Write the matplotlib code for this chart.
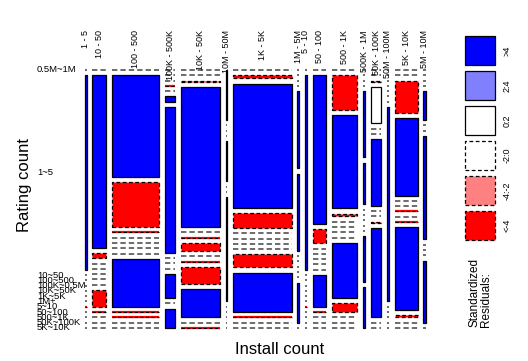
import numpy as np
import matplotlib.pyplot as plt
from matplotlib.patches import Rectangle

plt.rcParams['font.family'] = ['Liberation Sans', 'DejaVu Sans']

installs = ["1 - 5", "10 - 50", "100 - 500", "100K - 500K", "10K - 50K", "10M - 50M",
            "1K - 5K", "1M - 5M", "5 - 10", "50 - 100", "500 - 1K", "500K - 1M",
            "50K - 100K", "50M - 100M", "5K - 10K", "5M - 10M"]
ratings = ["0.5M~1M", "1~5", "10~50", "100~500", "100K~0.5M", "10K~50K", "1K~5K",
           "1M+", "5~10", "50~100", "500~1K", "50K~100K", "5K~10K"]

# apps per install bucket (column widths)
col_total = [15, 140, 470, 100, 390, 12, 580, 15, 22, 130, 250, 25, 100, 15, 230, 20]

# rating bucket shares inside each install column (tile heights)
col_share = [
    [0, 195, 0, 0, 0, 0, 0, 0, 0, 0, 0, 0, 0],
    [0, 175, 5, 0, 0, 0, 0, 0, 17, 0, 0, 0, 0],
    [0, 102, 45, 0, 0, 0, 0, 0, 48, 0, 0, 0, 0],
    [0, 0, 0, 0, 0, 5, 144, 0, 0, 0, 24, 0, 19],
    [0, 0, 1, 140, 0, 0, 8, 0, 0, 17, 28, 0, 0],
    [50, 0, 0, 0, 40, 0, 0, 104, 0, 0, 0, 0, 0],
    [0, 3, 126, 15, 0, 0, 0, 0, 13, 40, 0, 0, 0],
    [0, 0, 0, 0, 75, 75, 0, 0, 0, 0, 0, 39, 0],
    [0, 193, 0, 0, 0, 0, 0, 0, 0, 0, 0, 0, 0],
    [0, 150, 14, 0, 0, 0, 0, 0, 32, 0, 0, 0, 0],
    [0, 35, 95, 3, 0, 0, 0, 0, 56, 9, 0, 0, 0],
    [0, 0, 0, 0, 65, 41, 0, 0, 0, 0, 0, 45, 40],
    [0, 0, 1, 37, 0, 0, 68, 0, 0, 1, 91, 0, 0],
    [0, 0, 0, 0, 0, 0, 0, 194, 0, 0, 0, 0, 0],
    [0, 0, 32, 78, 0, 0, 0, 0, 0, 83, 2, 0, 0],
    [0, 0, 0, 0, 28, 0, 0, 100, 0, 0, 0, 60, 0],
]

# standardized residual class: B >4, b 2:4, w 0:2, g -2:0, r -4:-2, R <-4
shade = [
    "gBggggggRgggg",
    "gBRgggggRRggg",
    "gBRRggggBRRgg",
    "gggRgBBgggBgB",
    "ggRBgRRgRRBgR",
    "BgggBggBggggg",
    "gRBRggggRBRgg",
    "ggggBBgggggBg",
    "gBggggggRgggg",
    "gBRgggggBRggg",
    "gRBRggggBRggg",
    "ggggBBgggggBB",
    "ggRwggBggRBgg",
    "gggggggBggggg",
    "ggRBggRgRBRgg",
    "ggggBggBgggBg",
]

fills = {"B": "#0000FF", "b": "#8080FF", "w": "white", "g": "white", "r": "#FF8080", "R": "#FF0000"}

fig = plt.figure(figsize=(5.28, 3.61), dpi=100)
ax = fig.add_axes([85 / 528, 33 / 361, 340.5 / 528, 258 / 361])
ax.set_xlim(0, 1)
ax.set_ylim(0, 1)
ax.axis('off')

gx = 5.9 / 340.5
gy = 5.3 / 258
ncol, nrow = len(installs), len(ratings)

tot = np.array(col_total, float)
widths = tot / tot.sum() * (1 - (ncol - 1) * gx)
x = 0.0
first_col_y = []
for i in range(ncol):
    w = widths[i]
    share = np.array(col_share[i], float)
    heights = share / share.sum() * (1 - (nrow - 1) * gy)
    ytop = 1.0
    for j in range(nrow):
        h = heights[j]
        c = shade[i][j]
        neg = c in "grR"
        ls = (0, (3, 2)) if neg else "-"
        if h > 0:
            ax.add_patch(Rectangle((x, ytop - h), w, h, facecolor=fills[c],
                                   edgecolor="black", lw=0.9, linestyle=ls, clip_on=False))
        else:
            if c == "R":
                ax.plot([x, x + w], [ytop, ytop], color="#FF0000", lw=1.6, clip_on=False,
                        solid_capstyle="butt")
                ax.plot([x, x + w], [ytop, ytop], color="black", lw=0.8, clip_on=False,
                        linestyle=(0, (3, 2)))
            else:
                ax.plot([x, x + w], [ytop, ytop], color="#444444", lw=1.1, clip_on=False,
                        linestyle=(0, (3.5, 2)))
        if i == 0:
            first_col_y.append(ytop - h / 2)
        ytop -= h + gy
    ax.text(x + w / 2, 1 + 40 / 258, installs[i], rotation=90, ha="center", va="top",
            fontsize=6.5)
    x += w + gx

for j in range(nrow):
    ax.text((37 - 85) / 340.5, first_col_y[j], ratings[j], ha="left", va="center",
            fontsize=6.8)

fig.text(25 / 528, 1 - 185 / 361, "Rating count", rotation=90, ha="center", va="center",
         fontsize=12)
fig.text(280 / 528, 1 - 350 / 361, "Install count", ha="center", va="center", fontsize=12)

# legend
leg_labels = [">4", "2:4", "0:2", "-2:0", "-4:-2", "<-4"]
leg_codes = ["B", "b", "w", "g", "r", "R"]
lax = fig.add_axes([465 / 528, 1 - 240 / 361, 30 / 528, 204 / 361])
lax.set_xlim(0, 30)
lax.set_ylim(0, 204)
lax.axis('off')
for k in range(6):
    top = 204 - k * 35
    c = leg_codes[k]
    ls = (0, (3, 2)) if c in "grR" else "-"
    lax.add_patch(Rectangle((0, top - 29), 30, 29, facecolor=fills[c], edgecolor="black",
                            lw=0.9, linestyle=ls, clip_on=False))
    fig.text(507 / 528, 1 - (36 + k * 35 + 14.5) / 361, leg_labels[k], rotation=90,
             ha="center", va="center", fontsize=6.5)

fig.text(480 / 528, 1 - 327 / 361, "Standardized\nResiduals:", rotation=90, ha="center",
         va="bottom", fontsize=8.5, multialignment="left", linespacing=1.0)

fig.savefig("out.png", dpi=100)
